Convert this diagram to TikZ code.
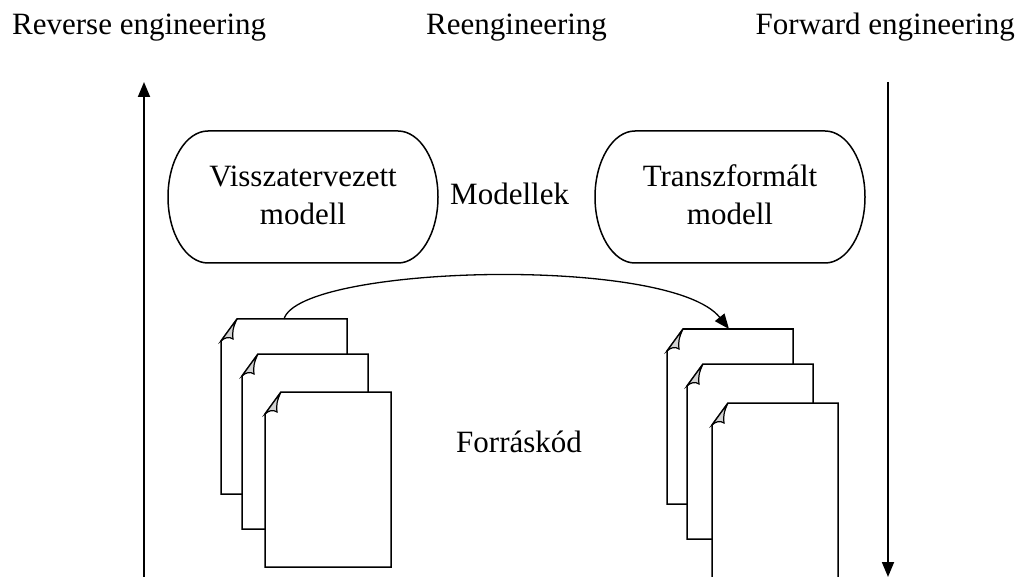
\documentclass[tikz,border=0pt]{standalone}
\usepackage{fontspec}
\setmainfont{Liberation Serif}
\usetikzlibrary{arrows.meta}
\tikzset{
  lbl/.style={inner sep=0pt, font=\fontsize{31}{36}\selectfont},
  vline/.style={line width=1.8pt, -{Triangle[width=12pt,length=15pt]}},
  curvearrow/.style={line width=1.3pt, -{Triangle[width=12pt,length=15pt]}},
  boxline/.style={line width=1.5pt},
  docline/.style={line width=1.5pt, fill=white, line join=miter},
  foldline/.style={line width=1.2pt, fill=gray!35},
  pics/docpage/.style={code={
    \draw[docline] (0,22) -- (16,0) -- (126,0) -- (126,175) -- (0,175) -- cycle;
    \draw[foldline] (0,22) -- (16,0) .. controls (12,8) and (11,14) .. (12,20) .. controls (8,17) and (3,19) .. (0,22) -- cycle;
  }},
  pics/modelbox/.style={code={
    % width 270, height 132, side arcs of x radius 40
    \draw[boxline] (40,0) -- (230,0)
      .. controls (252,0) and (270,29.5) .. (270,66)
      .. controls (270,102.5) and (252,132) .. (230,132)
      -- (40,132)
      .. controls (18,132) and (0,102.5) .. (0,66)
      .. controls (0,29.5) and (18,0) .. (40,0) -- cycle;
  }}
}
\begin{document}
\begin{tikzpicture}[x=1pt,y=-1pt]
\useasboundingbox (0,0) rectangle (1020,577);
\fill[white] (0,0) rectangle (1020,577);

% top labels
\node[lbl, anchor=base west] (rev) at (12,35) {Reverse engineering};
\node[lbl, anchor=base west] (reeng) at (426,35) {Reengineering};
\node[lbl, anchor=base east] (fwd) at (1015,35) {Forward engineering};

% vertical arrows
\coordinate (revbot) at (144,577);
\coordinate (revtop) at (144,82);
\coordinate (fwdtop) at (888,82);
\coordinate (fwdbot) at (888,577);
\draw[vline] (revbot) -- (revtop);
\draw[vline] (fwdtop) -- (fwdbot);

% model boxes
\pic at (168,131) {modelbox};
\pic at (595,131) {modelbox};
\node[lbl, anchor=base] (vm1) at (303,187) {Visszatervezett};
\node[lbl, anchor=base] (vm2) at (303,225) {modell};
\node[lbl, anchor=base] (tm1) at (730,187) {Transzformált};
\node[lbl, anchor=base] (tm2) at (730,225) {modell};
\node[lbl, anchor=base west] (mod) at (450,205) {Modellek};

% left stack
\pic at (221,319) {docpage};
\pic at (242,354) {docpage};
\pic at (265,392) {docpage};
% right stack
\pic at (667,329) {docpage};
\pic at (687,364) {docpage};
\pic at (712,403) {docpage};

\node[lbl, anchor=base west] (src) at (456,452) {Forráskód};

% curved arrow
\coordinate (srcL) at (284,319);
\coordinate (srcR) at (729,329);
\draw[curvearrow] (srcL) .. controls (300,265) and (670,255) .. (srcR);
\end{tikzpicture}
\end{document}
